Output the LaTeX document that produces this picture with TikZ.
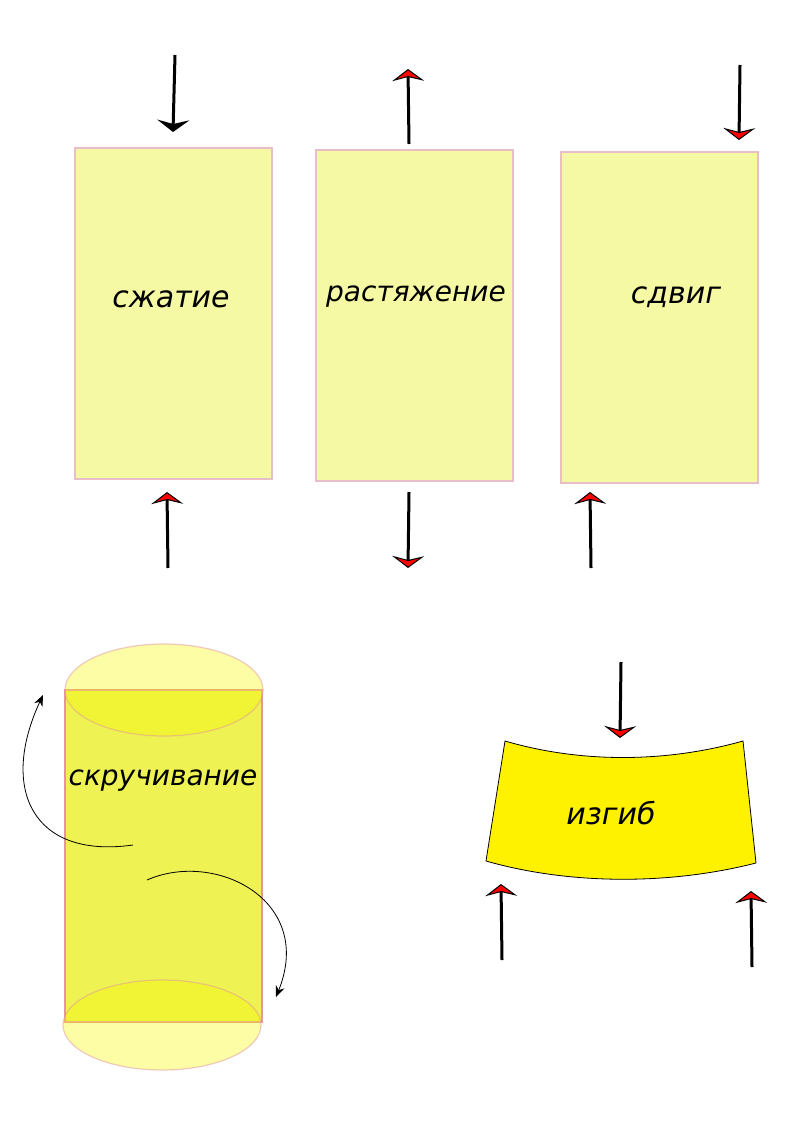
\documentclass[tikz,border=0pt]{standalone}
\usepackage{fontspec}
\setmainfont{DejaVu Sans}
\usetikzlibrary{arrows.meta}
\definecolor{boxfill}{RGB}{246,249,164}
\definecolor{boxline}{RGB}{232,190,200}
\definecolor{rodfill}{RGB}{238,242,82}
\definecolor{rodline}{RGB}{225,150,160}
\definecolor{capfill}{RGB}{249,250,0}
\begin{document}
\begin{tikzpicture}[
    x=1pt, y=-1pt,
    every node/.style={font=\fontsize{30}{34}\selectfont\itshape},
    loadbox/.style={
        draw=boxline,
        line width=1.5pt,
        fill=boxfill
    },
    force/.style={
        line width=3pt,
        -{Stealth[length=12pt, width=32pt, inset=4pt, line width=1pt, fill=red]}
    },
    blackforce/.style={
        line width=3pt,
        -{Stealth[length=12pt, width=32pt, inset=4pt]}
    },
    twist/.style={->, >={Stealth[length=11pt, width=9pt]}, line width=0.8pt}
]
    \useasboundingbox (0,0) rectangle (794,1123);

    % Three load boxes
    \draw[loadbox] (75,148) rectangle (272,479);
    \draw[loadbox] (316,150) rectangle (513,481);
    \draw[loadbox] (561,152) rectangle (758,483);

    \node (compress) at (171,299) {сжатие};
    \node[font=\fontsize{28}{32}\selectfont\itshape] (stretch) at (416,297) {растяжение};
    \node (shear) at (676,297) {сдвиг};

    % Force ends
    \coordinate (c1) at (175,55);   \coordinate (c1t) at (173,132);
    \coordinate (c2) at (168,568);  \coordinate (c2t) at (167,492);
    \coordinate (s1) at (409,144);  \coordinate (s1t) at (408,69);
    \coordinate (s2) at (409,492);  \coordinate (s2t) at (408,568);
    \coordinate (d1) at (740,65);   \coordinate (d1t) at (739,140);
    \coordinate (d2) at (591,568);  \coordinate (d2t) at (590,492);

    \draw[blackforce] (c1) -- (c1t);
    \draw[force] (c2) -- (c2t);
    \draw[force] (s1) -- (s1t);
    \draw[force] (s2) -- (s2t);
    \draw[force] (d1) -- (d1t);
    \draw[force] (d2) -- (d2t);

    % Twisted rod
    \draw[draw=rodline, line width=1.5pt, fill=rodfill] (65,690) rectangle (262,1022);
    \draw[draw=rodline, line width=1.2pt, fill=capfill, fill opacity=0.35, draw opacity=0.5]
        (164,690) ellipse [x radius=99, y radius=46];
    \draw[draw=rodline, line width=1.2pt, fill=capfill, fill opacity=0.35, draw opacity=0.5]
        (162,1025) ellipse [x radius=99, y radius=45];
    \node[font=\fontsize{28}{32}\selectfont\itshape] (torsion) at (163,781) {скручивание};

    \coordinate (t1) at (133,845);  \coordinate (t1t) at (43,695);
    \coordinate (t2) at (147,880);  \coordinate (t2t) at (276,997);
    \draw[twist] (t1) to[out=188, in=245, looseness=1.5] (t1t);
    \draw[twist] (t2) .. controls (215,850) and (315,900) .. (t2t);

    % Bent beam
    \draw[fill=yellow, line width=0.8pt]
        (505,741) .. controls (580,763) and (665,763) .. (743,741)
        -- (756,863) .. controls (670,885) and (570,885) .. (486,861) -- cycle;
    \node (bend) at (611,813) {изгиб};

    \coordinate (b1) at (621,662);  \coordinate (b1t) at (620,738);
    \coordinate (b2) at (502,960);  \coordinate (b2t) at (501,884);
    \coordinate (b3) at (752,967);  \coordinate (b3t) at (751,891);
    \draw[force] (b1) -- (b1t);
    \draw[force] (b2) -- (b2t);
    \draw[force] (b3) -- (b3t);
\end{tikzpicture}
\end{document}
